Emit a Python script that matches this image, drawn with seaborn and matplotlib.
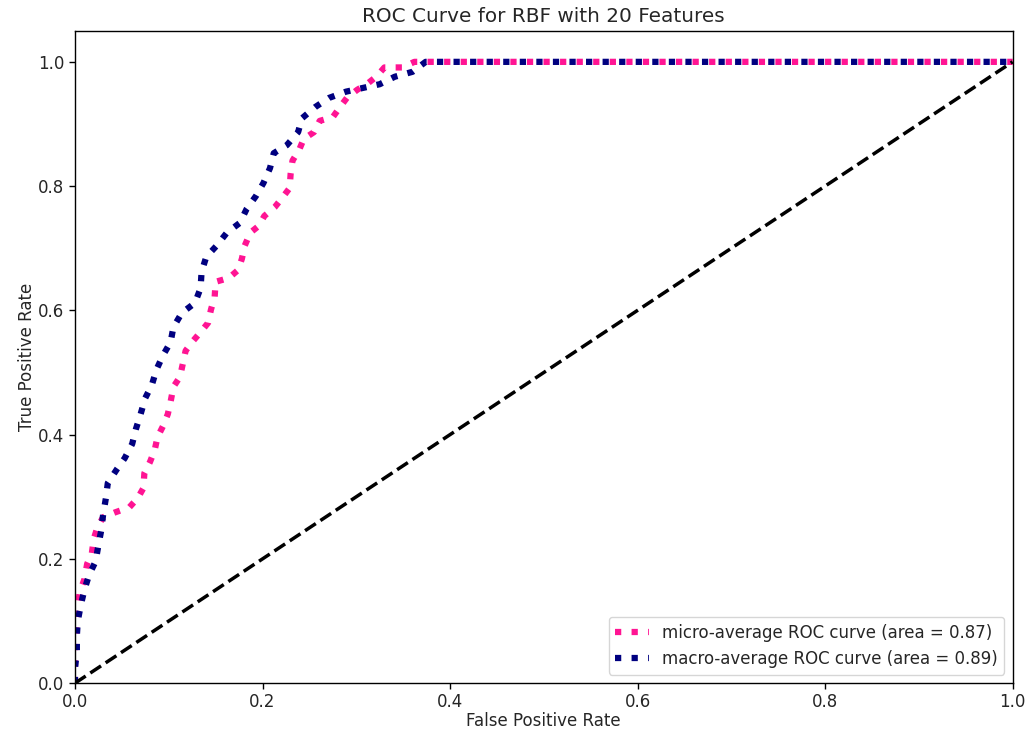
import matplotlib
matplotlib.use("Agg")
import matplotlib.pyplot as plt
import seaborn as sns
import numpy as np

micro_fpr = [0, 0, 0, 0.001, 0.002, 0.003, 0.005, 0.010, 0.013, 0.018,
             0.020, 0.024, 0.030, 0.043, 0.058, 0.067, 0.073, 0.074, 0.080, 0.085,
             0.088, 0.094, 0.099, 0.102, 0.105, 0.112, 0.115, 0.118, 0.126, 0.134,
             0.142, 0.145, 0.149, 0.150, 0.164, 0.174, 0.178, 0.181, 0.187, 0.196,
             0.202, 0.213, 0.221, 0.229, 0.230, 0.232, 0.239, 0.244, 0.255, 0.261,
             0.275, 0.283, 0.290, 0.301, 0.312, 0.322, 0.330, 0.349, 0.362, 1.0]
micro_tpr = [0, 0.032, 0.053, 0.077, 0.105, 0.122, 0.146, 0.167, 0.192, 0.209,
             0.232, 0.251, 0.267, 0.275, 0.283, 0.298, 0.314, 0.338, 0.356, 0.375,
             0.396, 0.414, 0.433, 0.453, 0.477, 0.493, 0.514, 0.535, 0.551, 0.565,
             0.580, 0.601, 0.622, 0.646, 0.652, 0.665, 0.683, 0.704, 0.725, 0.736,
             0.752, 0.766, 0.781, 0.797, 0.820, 0.841, 0.858, 0.876, 0.887, 0.905,
             0.911, 0.928, 0.942, 0.955, 0.965, 0.977, 0.991, 0.991, 1.0, 1.0]

macro_fpr = [0, 0, 0.002, 0.002, 0.003, 0.006, 0.010, 0.015, 0.022, 0.025,
             0.028, 0.030, 0.033, 0.035, 0.045, 0.053, 0.061, 0.065, 0.070, 0.075,
             0.082, 0.087, 0.094, 0.102, 0.105, 0.114, 0.128, 0.134, 0.135, 0.140,
             0.151, 0.162, 0.176, 0.183, 0.193, 0.201, 0.208, 0.212, 0.226, 0.238,
             0.242, 0.256, 0.271, 0.289, 0.307, 0.325, 0.341, 0.360, 0.374, 1.0]
macro_tpr = [0, 0.024, 0.050, 0.076, 0.100, 0.124, 0.150, 0.174, 0.196, 0.222,
             0.246, 0.271, 0.298, 0.322, 0.345, 0.362, 0.385, 0.409, 0.433, 0.459,
             0.480, 0.505, 0.528, 0.549, 0.573, 0.596, 0.612, 0.636, 0.662, 0.686,
             0.704, 0.725, 0.741, 0.763, 0.784, 0.805, 0.829, 0.853, 0.866, 0.887,
             0.909, 0.927, 0.942, 0.952, 0.958, 0.964, 0.976, 0.984, 1.0, 1.0]

micro_auc = 0.87
macro_auc = 0.89
diag = [0, 1]

plt.rcParams.update({
    "font.size": 12.0,
    "axes.titlesize": 14.4,
    "axes.linewidth": 1.0,
    "xtick.major.size": 4.3,
    "ytick.major.size": 4.3,
    "xtick.major.width": 1.0,
    "ytick.major.width": 1.0,
    "xtick.major.pad": 2.5,
    "text.color": "#262626",
    "axes.labelcolor": "#262626",
    "xtick.labelcolor": "#262626",
    "ytick.labelcolor": "#262626",
})

fig = plt.figure(figsize=(10.27, 7.33), dpi=100)
ax = fig.add_axes([0.073, 0.068, 0.913, 0.890])

sns.lineplot(x=micro_fpr, y=micro_tpr, sort=False, estimator=None, ax=ax,
             color="deeppink", linestyle=":", linewidth=4.5,
             label=f"micro-average ROC curve (area = {micro_auc:.2f})")
sns.lineplot(x=macro_fpr, y=macro_tpr, sort=False, estimator=None, ax=ax,
             color="navy", linestyle=":", linewidth=4.5,
             label=f"macro-average ROC curve (area = {macro_auc:.2f})")
ax.plot(diag, diag, "k--", lw=2.5)

ax.set_xlim(0.0, 1.0)
ax.set_ylim(0.0, 1.05)
ax.set_xlabel("False Positive Rate", labelpad=1)
ax.set_ylabel("True Positive Rate", labelpad=1)
ax.set_title("ROC Curve for RBF with 20 Features")
ax.legend(loc="lower right")

fig.savefig("out.png", dpi=100)
